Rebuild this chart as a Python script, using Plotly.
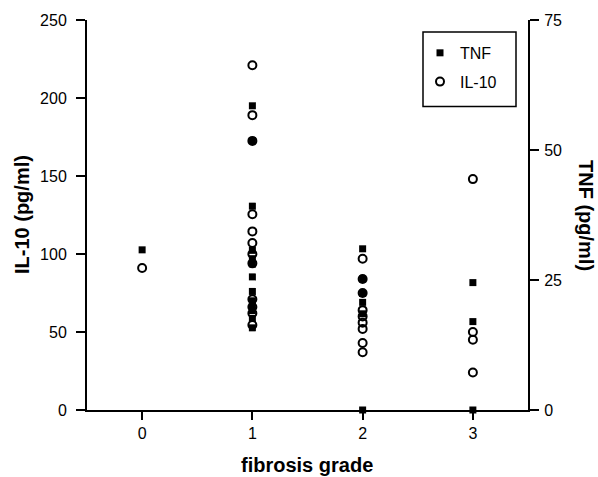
import plotly.graph_objects as go

# ---- data ----
grades = [0, 1, 2, 3]
grade_labels = ["0", "1", "2", "3"]

il10_by_grade = {
    0: [91],
    1: [221, 189, 172.5, 125.5, 114.5, 107, 100, 94, 71, 66, 62, 54.5],
    2: [97, 84, 75, 64, 60, 56, 52, 43, 37],
    3: [148, 50, 45, 24],
}
tnf_by_grade = {
    0: [30.8],
    1: [58.5, 51.8, 39.2, 30.7, 29.1, 28.1, 25.6, 22.8, 21, 20, 19.1, 17.6, 15.8],
    2: [31, 25.2, 22.4, 20.7, 18.5, 0],
    3: [24.5, 17, 0],
}

il10_ticks = [0, 50, 100, 150, 200, 250]
tnf_ticks = [0, 25, 50, 75]

# ---- build flat arrays ----
il10_x, il10_y = [], []
for g in grades:
    for v in il10_by_grade[g]:
        il10_x.append(g)
        il10_y.append(v)
tnf_x, tnf_y = [], []
for g in grades:
    for v in tnf_by_grade[g]:
        tnf_x.append(g)
        tnf_y.append(v)

FONT = "Liberation Sans, Arial, Helvetica, sans-serif"

fig = go.Figure()
fig.add_trace(go.Scatter(
    x=tnf_x, y=tnf_y, yaxis="y2", mode="markers", name="TNF",
    marker=dict(symbol="square", size=7, color="black"),
    legendgroup="a", legendrank=1, cliponaxis=False,
))
fig.add_trace(go.Scatter(
    x=il10_x, y=il10_y, mode="markers", name="IL-10",
    marker=dict(symbol="circle-open", size=8, color="black", line=dict(width=2, color="black")),
    legendgroup="b", legendrank=2, cliponaxis=False,
))

axis_common = dict(
    showline=True, linecolor="black", linewidth=2,
    ticks="outside", tickcolor="black", tickwidth=2,
    showgrid=False, zeroline=False,
    tickfont=dict(family=FONT, size=16, color="black"),
)

fig.update_layout(
    width=598, height=477,
    margin=dict(l=87, r=70, t=18, b=67),
    paper_bgcolor="white", plot_bgcolor="white",
    font=dict(family=FONT, color="black"),
    xaxis=dict(range=[-0.5, 3.5], tickvals=grades, ticktext=grade_labels,
               ticklen=8, **axis_common),
    yaxis=dict(range=[0, 250], tickvals=il10_ticks, ticklen=9,
               ticklabelstandoff=6, **axis_common),
    yaxis2=dict(range=[0, 75], tickvals=tnf_ticks, overlaying="y", side="right",
                ticklen=9, ticklabelstandoff=2, **axis_common),
    showlegend=True,
    legend=dict(x=(420 - 87) / 441, y=(410 - 34) / 392, xanchor="left", yanchor="top",
                bgcolor="rgba(0,0,0,0)", borderwidth=0,
                font=dict(family=FONT, size=16, color="black"),
                traceorder="grouped", tracegroupgap=5),
    shapes=[dict(type="rect", xref="paper", yref="paper",
                 x0=(423 - 87) / 441, x1=(516 - 87) / 441,
                 y0=(410 - 105) / 392, y1=(410 - 30) / 392,
                 line=dict(color="black", width=1.5), fillcolor="rgba(0,0,0,0)")],
    annotations=[
        dict(text="<b>IL-10 (pg/ml)</b>", xref="paper", yref="paper",
             x=(22 - 87) / 441, y=0.5, xanchor="center", yanchor="middle",
             textangle=-90, showarrow=False,
             font=dict(family=FONT, size=20, color="black")),
        dict(text="<b>TNF (pg/ml)</b>", xref="paper", yref="paper",
             x=(586 - 87) / 441, y=0.5, xanchor="center", yanchor="middle",
             textangle=90, showarrow=False,
             font=dict(family=FONT, size=20, color="black")),
        dict(text="<b>fibrosis grade</b>", xref="paper", yref="paper",
             x=(307 - 87) / 441, y=(410 - 465) / 392, xanchor="center", yanchor="middle",
             showarrow=False,
             font=dict(family=FONT, size=20, color="black")),
    ],
)

fig.write_html("out.html", config={"displayModeBar": False},
               post_script="document.body.style.margin='0px';")
